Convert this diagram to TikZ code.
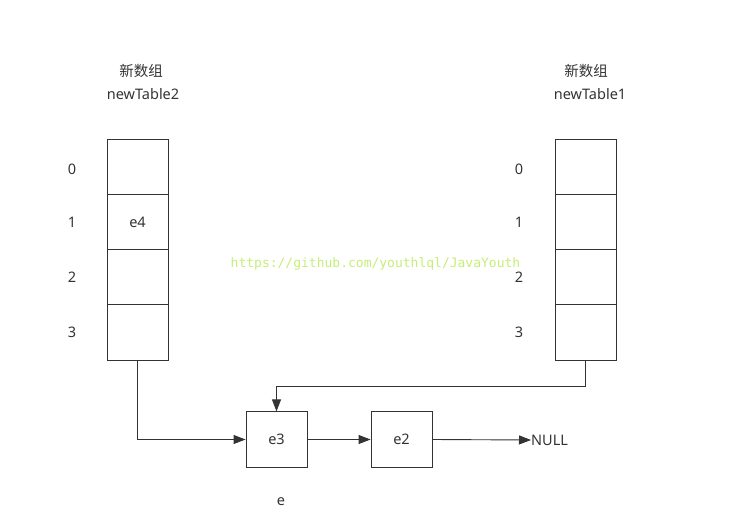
\documentclass[tikz,border=0pt]{standalone}
\usepackage{fontspec}
\setmainfont{Noto Sans}
\newfontfamily\cjk{Noto Sans CJK SC}
\newfontfamily\wmono{DejaVu Sans Mono}
\usetikzlibrary{arrows.meta}
\definecolor{ink}{HTML}{333333}
\definecolor{wm}{HTML}{C4EE78}
\tikzset{
  cell/.style={draw=ink, line width=0.9pt, minimum width=61pt, minimum height=55.25pt, inner sep=0pt, text=ink, font=\fontsize{14.5}{16}\selectfont},
  lbl/.style={text=ink, inner sep=0pt, font=\fontsize{14.5}{16}\selectfont},
  conn/.style={draw=ink, line width=0.9pt, -{Triangle[length=12pt,width=9pt]}}
}
\begin{document}
\begin{tikzpicture}[x=1pt,y=-1pt]
\useasboundingbox (0,0) rectangle (750,527);
% left table
\node[cell] (L0) at (137.5,166.6) {};
\node[cell] (L1) at (137.5,221.9) {e4};
\node[cell] (L2) at (137.5,277.1) {};
\node[cell] (L3) at (137.5,332.4) {};
% right table
\node[cell] (R0) at (585.5,166.6) {};
\node[cell] (R1) at (585.5,221.9) {};
\node[cell] (R2) at (585.5,277.1) {};
\node[cell] (R3) at (585.5,332.4) {};
% index labels
\node[lbl] (li0) at (72,169) {0};
\node[lbl] (li1) at (72,222) {1};
\node[lbl] (li2) at (72,277) {2};
\node[lbl] (li3) at (72,332) {3};
\node[lbl] (ri0) at (519,169) {0};
\node[lbl] (ri1) at (519,222) {1};
\node[lbl] (ri2) at (519,277) {2};
\node[lbl] (ri3) at (519,332) {3};
% headers
\node[lbl] (lh1) at (141,71) {\cjk 新数组};
\node[lbl] (lh2) at (143,94) {newTable2};
\node[lbl] (rh1) at (586,71) {\cjk 新数组};
\node[lbl] (rh2) at (590,94) {newTable1};
% list nodes
\node[cell] (E3) at (276.5,439.5) {e3};
\node[cell] (E2) at (401.5,439.5) {e2};
\node[lbl, anchor=west] (NULL) at (531,440) {NULL};
\node[lbl] (e) at (281,502) {e};
% watermark
\node[inner sep=0pt, text=wm, font=\wmono\fontsize{13}{15}\selectfont] (wm) at (375.5,264) {https://github.com/youthlql/JavaYouth};
% connectors
\draw[conn] (L3.south) |- (E3.west);
\draw[conn] (R3.south) |- (276.5,386) -- (E3.north);
\draw[conn] (E3.east) -- (E2.west);
\draw[conn] (E2.east) -- (NULL.west);
\end{tikzpicture}
\end{document}
